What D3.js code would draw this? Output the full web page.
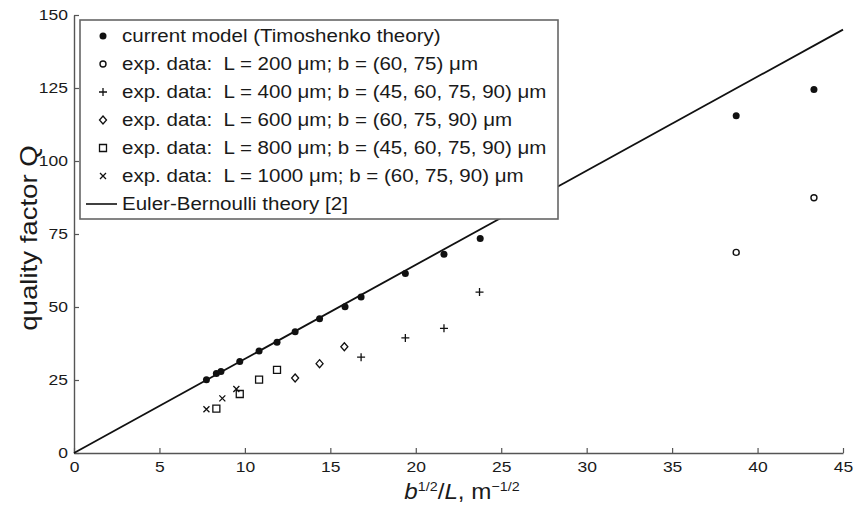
<!DOCTYPE html>
<html>
<head>
<meta charset="utf-8">
<script src="https://cdn.jsdelivr.net/npm/d3@7"></script>
<style>
  body { margin: 0; background: #fff; }
  text { font-family: "Liberation Sans", Arial, sans-serif; fill: #1a1a1a; }
</style>
</head>
<body>
<div id="chart"></div>
<script>
// values
const modelX = [7.75, 8.33, 8.6, 9.7, 10.83, 11.88, 12.94, 14.37, 15.86, 16.8, 19.39, 21.65, 23.77, 38.75, 43.3];
const modelQ = [25.1, 27.2, 27.9, 31.3, 34.9, 37.9, 41.5, 46.0, 50.1, 53.4, 61.5, 68.1, 73.5, 115.5, 124.5];

const l200X = [38.75, 43.3];
const l200Q = [68.7, 87.4];
const l400X = [16.8, 19.39, 21.65, 23.73];
const l400Q = [32.8, 39.4, 42.7, 55.1];
const l600X = [12.94, 14.37, 15.82];
const l600Q = [25.7, 30.6, 36.4];
const l800X = [8.33, 9.7, 10.83, 11.88];
const l800Q = [15.2, 20.2, 25.1, 28.5];
const l1000X = [7.75, 8.68, 9.5];
const l1000Q = [15.0, 18.7, 21.9];

const eulerX = [0, 45];
const eulerQ = [0, 145];

const xTicks = [0, 5, 10, 15, 20, 25, 30, 35, 40, 45];
const yTicks = [0, 25, 50, 75, 100, 125, 150];

const legendLabels = [
  "current model (Timoshenko theory)",
  "exp. data:  L = 200 \u03bcm; b = (60, 75) \u03bcm",
  "exp. data:  L = 400 \u03bcm; b = (45, 60, 75, 90) \u03bcm",
  "exp. data:  L = 600 \u03bcm; b = (60, 75, 90) \u03bcm",
  "exp. data:  L = 800 \u03bcm; b = (45, 60, 75, 90) \u03bcm",
  "exp. data:  L = 1000 \u03bcm; b = (60, 75, 90) \u03bcm",
  "Euler-Bernoulli theory [2]"
];
const legendMarkers = ["dot", "circle", "plus", "diamond", "square", "cross", "line"];

function markerPath(type) {
  if (type == "plus") return "M-4,0H4M0,-4V4";
  if (type == "cross") return "M-3,-3L3,3M-3,3L3,-3";
  if (type == "diamond") return "M0,-4L3.5,0L0,4L-3.5,0Z";
  if (type == "square") return "M-3.5,-3.5H3.5V3.5H-3.5Z";
  return null;
}

// horizontal stretch of text around its anchor point
function stretch(sel, sx) {
  sel.each(function() {
    let t = d3.select(this);
    let x = +t.attr("x") || 0, y = +t.attr("y") || 0;
    t.attr("transform", "translate(" + x + "," + y + ") scale(" + sx + ",1) translate(" + (-x) + "," + (-y) + ")");
  });
}

function drawMarker(g, type, x, y) {
  if (type == "dot") {
    g.append("circle").attr("cx", x).attr("cy", y).attr("r", 3.5).style("fill", "#111");
  } else if (type == "circle") {
    g.append("circle").attr("cx", x).attr("cy", y).attr("r", 3)
      .style("fill", "none").style("stroke", "#111").style("stroke-width", 1.4);
  } else if (type == "line") {
    g.append("line").attr("x1", x - 17).attr("x2", x + 14).attr("y1", y).attr("y2", y)
      .style("stroke", "#111").style("stroke-width", 1.6);
  } else {
    g.append("path").attr("d", markerPath(type))
      .attr("transform", "translate(" + x + "," + y + ")")
      .style("fill", "none").style("stroke", "#111").style("stroke-width", 1.3);
  }
}

let params = {
  width: 856,
  height: 510,
  margin: { left: 74, right: 13, top: 15, bottom: 57 }
};

let svg = d3.select("#chart").append("svg")
  .attr("width", params.width)
  .attr("height", params.height);

let scaleX = d3.scaleLinear()
  .domain([0, 45])
  .range([params.margin.left, params.width - params.margin.right]);

let scaleY = d3.scaleLinear()
  .domain([0, 150])
  .range([params.height - params.margin.bottom, params.margin.top]);

// axes, ticks pointing inward
let axisBottom = d3.axisBottom(scaleX)
  .tickValues(xTicks)
  .tickSizeInner(-5)
  .tickSizeOuter(0)
  .tickPadding(9);

let axisLeft = d3.axisLeft(scaleY)
  .tickValues(yTicks)
  .tickSizeInner(-5)
  .tickSizeOuter(0)
  .tickPadding(6);

let gx = svg.append("g")
  .attr("class", "axisBottom")
  .attr("transform", "translate(0," + scaleY(0) + ")")
  .call(axisBottom);

let gy = svg.append("g")
  .attr("class", "axisLeft")
  .attr("transform", "translate(" + scaleX(0) + ",0)")
  .call(axisLeft);

[gx, gy].forEach(g => {
  g.select(".domain").style("stroke", "#555").style("stroke-width", 1.4);
  g.selectAll(".tick line").style("stroke", "#555").style("stroke-width", 1.2);
  g.selectAll("text")
    .style("font-family", "'Liberation Sans', Arial, sans-serif")
    .style("font-size", "14px")
    .style("fill", "#1a1a1a");
  stretch(g.selectAll("text"), 1.25);
});

// Euler-Bernoulli line
let line = d3.line()
  .x(d => scaleX(d[0]))
  .y(d => scaleY(d[1]));

svg.append("path")
  .datum(d3.zip(eulerX, eulerQ))
  .attr("d", line)
  .style("fill", "none")
  .style("stroke", "#111")
  .style("stroke-width", 1.8);

// point series
let series = [
  { type: "dot", x: modelX, q: modelQ },
  { type: "circle", x: l200X, q: l200Q },
  { type: "plus", x: l400X, q: l400Q },
  { type: "diamond", x: l600X, q: l600Q },
  { type: "square", x: l800X, q: l800Q },
  { type: "cross", x: l1000X, q: l1000Q }
];

let points = svg.append("g").attr("class", "points");
series.forEach(s => {
  for (let i = 0; i < s.x.length; ++i) {
    drawMarker(points, s.type, scaleX(s.x[i]), scaleY(s.q[i]));
  }
});

// legend
let legend = svg.append("g").attr("class", "legend");
legend.append("rect")
  .attr("x", 80)
  .attr("y", 20)
  .attr("width", 478)
  .attr("height", 199)
  .style("fill", "#fff")
  .style("stroke", "#666")
  .style("stroke-width", 1.6);

for (let i = 0; i < legendLabels.length; ++i) {
  let cy = 36 + i * 28;
  drawMarker(legend, legendMarkers[i], 103, cy);
  let t = legend.append("text")
    .attr("x", 122)
    .attr("y", cy + 6.5)
    .style("font-size", "18.5px")
    .style("white-space", "pre")
    .text(legendLabels[i]);
  stretch(t, 1.11);
}

// axis titles
let ylab = svg.append("text")
  .attr("x", 0)
  .attr("y", 0)
  .attr("text-anchor", "middle")
  .style("font-size", "23px")
  .attr("transform", "translate(37,238) rotate(-90) scale(1.2,1)")
  .text("quality factor Q");

let xlab = svg.append("text")
  .attr("x", 462)
  .attr("y", 499)
  .attr("text-anchor", "middle")
  .style("font-size", "22px");
xlab.append("tspan").style("font-style", "italic").text("b");
xlab.append("tspan").attr("dy", -8).style("font-size", "13px").text("1/2");
xlab.append("tspan").attr("dy", 8).text("/");
xlab.append("tspan").style("font-style", "italic").text("L");
xlab.append("tspan").text(", m");
xlab.append("tspan").attr("dy", -8).style("font-size", "13px").text("\u22121/2");
stretch(xlab, 1.1);
</script>
</body>
</html>
